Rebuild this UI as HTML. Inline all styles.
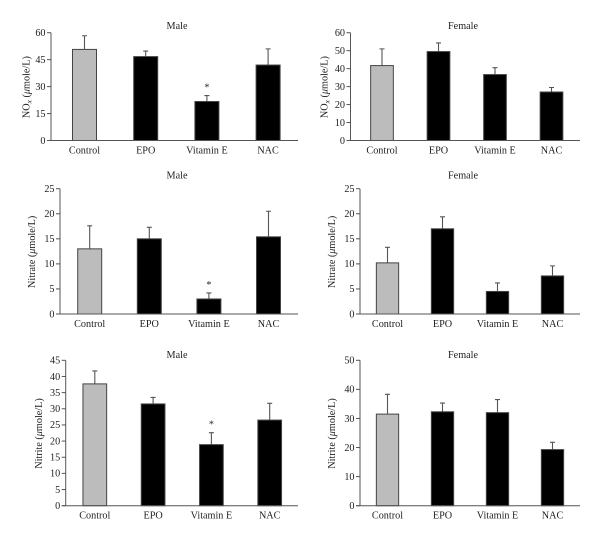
<!DOCTYPE html>
<html lang="en">
<head>
<meta charset="utf-8">
<title>NOx, nitrate and nitrite by treatment and sex</title>
<style>
html,body{margin:0;padding:0;background:#fff;}
svg{display:block;}
text{font-family:"Liberation Serif",serif;fill:#222;font-size:10.2px;}
</style>
</head>
<body>
<svg id="figure" width="600" height="542" viewBox="0 0 600 542" xmlns="http://www.w3.org/2000/svg" style="filter:blur(0.3px)"></svg>
<script>
const categories = ["Control", "EPO", "Vitamin E", "NAC"];

const noxMaleValues = [50.7, 46.7, 21.7, 42];
const noxMaleErrors = [58.3, 49.8, 25, 51];
const noxMaleTicks = [0, 15, 30, 45, 60];
const noxMaleStars = [false, false, true, false];

const noxFemaleValues = [41.7, 49.5, 36.7, 27];
const noxFemaleErrors = [51, 54.3, 40.5, 29.5];
const noxFemaleTicks = [0, 10, 20, 30, 40, 50, 60];
const noxFemaleStars = [false, false, false, false];

const nitrateMaleValues = [13, 15, 3, 15.4];
const nitrateMaleErrors = [17.6, 17.3, 4.2, 20.5];
const nitrateMaleTicks = [0, 5, 10, 15, 20, 25];
const nitrateMaleStars = [false, false, true, false];

const nitrateFemaleValues = [10.2, 17, 4.5, 7.6];
const nitrateFemaleErrors = [13.3, 19.4, 6.2, 9.6];
const nitrateFemaleTicks = [0, 5, 10, 15, 20, 25];
const nitrateFemaleStars = [false, false, false, false];

const nitriteMaleValues = [37.7, 31.5, 18.9, 26.5];
const nitriteMaleErrors = [41.7, 33.5, 22.6, 31.7];
const nitriteMaleTicks = [0, 5, 10, 15, 20, 25, 30, 35, 40, 45];
const nitriteMaleStars = [false, false, true, false];

const nitriteFemaleValues = [31.5, 32.3, 32, 19.3];
const nitriteFemaleErrors = [38.3, 35.3, 36.5, 21.8];
const nitriteFemaleTicks = [0, 10, 20, 30, 40, 50];
const nitriteFemaleStars = [false, false, false, false];

const NS = "http://www.w3.org/2000/svg";
const root = document.getElementById("figure");

function add(parent, tag, attrs, text) {
  const el = document.createElementNS(NS, tag);
  for (const k in attrs) el.setAttribute(k, attrs[k]);
  if (text !== undefined) el.textContent = text;
  parent.appendChild(el);
  return el;
}

function drawPanel(key, title, kind, values, errors, ticks, stars, box) {
  const g = add(root, "g", {});
  
  

  const maxTick = ticks[ticks.length - 1];
  const yScale = v => box.bottom - (v / maxTick) * (box.bottom - box.top);
  const xCenter = i => box.firstCenter + i * box.step;

  const titleEl = add(g, "text", {x: box.titleX, y: box.titleY, "text-anchor": "middle"}, title);
  
  

  const yTitle = add(g, "text", {
    transform: "translate(" + box.yTitleX + "," + ((box.top + box.bottom) / 2 + 0.5) + ") rotate(-90)",
    "text-anchor": "middle"
  });
  
  
  if (kind === "NO") {
    add(yTitle, "tspan", {}, "NO");
    add(yTitle, "tspan", {dy: "2", "font-size": "7.5", "font-style": "italic"}, "x");
    add(yTitle, "tspan", {dy: "-2"}, " (");
  } else {
    add(yTitle, "tspan", {}, kind + " (");
  }
  add(yTitle, "tspan", {"font-style": "italic"}, "\u03bc");
  add(yTitle, "tspan", {}, "mole/L)");

  values.forEach((v, i) => {
    const c = xCenter(i);
    const errLine = add(g, "path", {
      d: "M" + c + " " + yScale(v) + "V" + yScale(errors[i]) + "M" + (c - 2.5) + " " + yScale(errors[i]) + "H" + (c + 2.5),
      stroke: "#555", "stroke-width": 1.1, fill: "none"
    });
    
    

    const bar = add(g, "rect", {
      x: c - box.barW / 2, y: yScale(v), width: box.barW, height: box.bottom - yScale(v),
      fill: i === 0 ? "#bcbcbc" : "#000", stroke: "#444", "stroke-width": 1
    });
    
    

    const label = add(g, "text", {x: c, y: box.bottom + 13, "text-anchor": "middle"}, categories[i]);
    
    

    if (stars[i]) {
      const star = add(g, "text", {x: c, y: yScale(errors[i]) - 5, "text-anchor": "middle"}, "*");
      
      
    }
  });

  const yAxis = add(g, "line", {x1: box.left, x2: box.left, y1: box.top, y2: box.bottom, stroke: "#555", "stroke-width": 1});
  
  
  const xAxis = add(g, "line", {x1: box.left - 4, x2: box.right, y1: box.bottom, y2: box.bottom, stroke: "#555", "stroke-width": 1});
  
  

  ticks.forEach(t => {
    const y = yScale(t);
    const tick = add(g, "line", {x1: box.left - 4, x2: box.left, y1: y, y2: y, stroke: "#555", "stroke-width": 1});
    
    
    const lab = add(g, "text", {x: box.left - 5.5, y: y + 3.3, "text-anchor": "end"}, String(t));
    
    
  });
}

drawPanel("nox-male", "Male", "NO", noxMaleValues, noxMaleErrors, noxMaleTicks, noxMaleStars,
  {left: 51, right: 298, top: 32.7, bottom: 140.5, firstCenter: 84.5, step: 61.2, barW: 24, titleX: 177, titleY: 29, yTitleX: 29.5});
drawPanel("nox-female", "Female", "NO", noxFemaleValues, noxFemaleErrors, noxFemaleTicks, noxFemaleStars,
  {left: 350.5, right: 580, top: 32.7, bottom: 140.5, firstCenter: 382, step: 56.5, barW: 22.7, titleX: 463, titleY: 29, yTitleX: 327.5});
drawPanel("nitrate-male", "Male", "Nitrate", nitrateMaleValues, nitrateMaleErrors, nitrateMaleTicks, nitrateMaleStars,
  {left: 60, right: 298, top: 188.7, bottom: 314, firstCenter: 89.7, step: 59.6, barW: 24, titleX: 177, titleY: 178.5, yTitleX: 35});
drawPanel("nitrate-female", "Female", "Nitrate", nitrateFemaleValues, nitrateFemaleErrors, nitrateFemaleTicks, nitrateFemaleStars,
  {left: 360, right: 580, top: 188.7, bottom: 314, firstCenter: 387.5, step: 55, barW: 22.3, titleX: 463, titleY: 178.5, yTitleX: 335});
drawPanel("nitrite-male", "Male", "Nitrite", nitriteMaleValues, nitriteMaleErrors, nitriteMaleTicks, nitriteMaleStars,
  {left: 65.7, right: 298, top: 360.3, bottom: 505.7, firstCenter: 94.8, step: 58.3, barW: 23.7, titleX: 177, titleY: 358, yTitleX: 42});
drawPanel("nitrite-female", "Female", "Nitrite", nitriteFemaleValues, nitriteFemaleErrors, nitriteFemaleTicks, nitriteFemaleStars,
  {left: 360, right: 580, top: 360.3, bottom: 505.7, firstCenter: 387.5, step: 55, barW: 22.3, titleX: 463, titleY: 358, yTitleX: 335});
</script>
</body>
</html>
